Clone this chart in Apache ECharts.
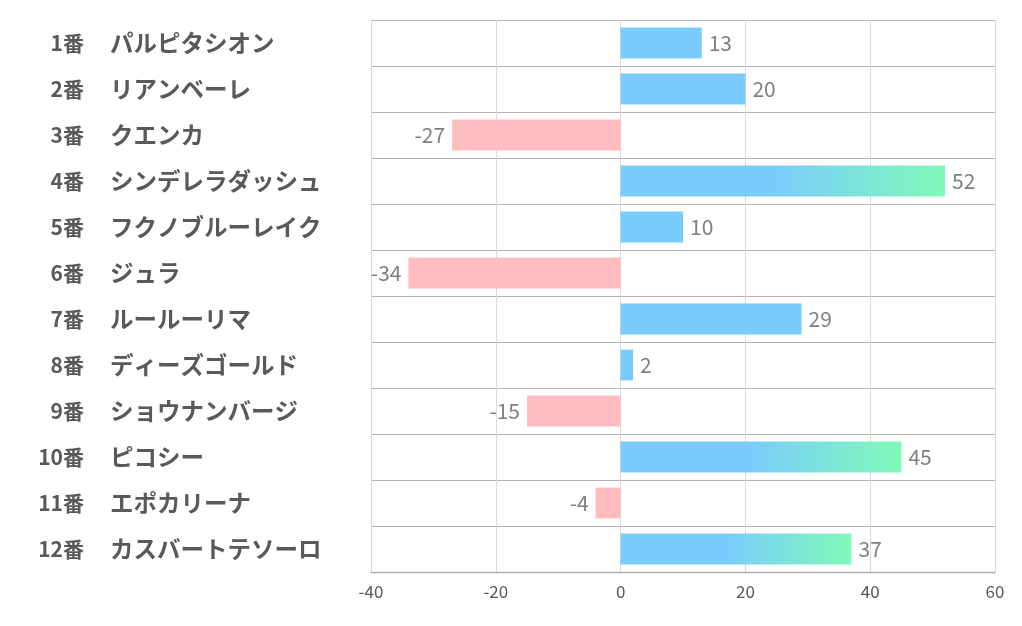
<!DOCTYPE html>
<html>
<head>
<meta charset="utf-8">
<script src="https://cdn.jsdelivr.net/npm/echarts@6/dist/echarts.min.js"></script>
<style>
html,body{margin:0;padding:0;background:#fff;}
#chart{width:1022px;height:626px;}
</style>
</head>
<body>
<div id="chart"></div>
<script>
var numbers = ['1番','2番','3番','4番','5番','6番','7番','8番','9番','10番','11番','12番'];
var names = ['パルピタシオン','リアンベーレ','クエンカ','シンデレラダッシュ','フクノブルーレイク','ジュラ','ルールーリマ','ディーズゴールド','ショウナンバージ','ピコシー','エポカリーナ','カスバートテソーロ'];
var values = [13, 20, -27, 52, 10, -34, 29, 2, -15, 45, -4, 37];
var xTicks = [-40, -20, 0, 20, 40, 60];

var BLUE = '#7ACBFE', GREEN = '#80FAB8', PINK = '#FFBDBF';
var FONT = '"Noto Sans CJK JP", "Noto Sans", sans-serif';

var data = values.map(function(v){
  var color;
  if (v < 0) color = PINK;
  else if (v > 30) color = new echarts.graphic.LinearGradient(0, 0, 1, 0, [
    {offset: 0, color: BLUE}, {offset: 0.45, color: BLUE}, {offset: 1, color: GREEN}
  ]);
  else color = BLUE;
  return {
    value: v,
    itemStyle: {color: color},
    label: {position: v < 0 ? 'left' : 'right'}
  };
});

var chart = echarts.init(document.getElementById('chart'));
chart.setOption({
  animation: false,
  grid: {left: 371, right: 27, top: 20, bottom: 54, containLabel: false},
  xAxis: {
    type: 'value', min: xTicks[0], max: xTicks[xTicks.length-1], interval: 20,
    axisLine: {show: true, lineStyle: {color: '#ababab', width: 1.3}},
    axisTick: {show: false},
    axisLabel: {color: '#595959', fontSize: 17, fontFamily: FONT, margin: 11},
    splitLine: {show: true, lineStyle: {color: '#d9d9d9', width: 1}}
  },
  yAxis: [{
    type: 'category', data: numbers, inverse: true,
    axisLine: {show: false}, axisTick: {show: false},
    splitLine: {show: true, lineStyle: {color: '#b3b3b3', width: 1.2}},
    axisLabel: {margin: 287, align: 'right', fontSize: 21, fontWeight: 'bold', color: '#595959', fontFamily: FONT}
  }, {
    type: 'category', data: names, inverse: true, position: 'left',
    axisLine: {show: false}, axisTick: {show: false}, splitLine: {show: false},
    axisLabel: {margin: 261, align: 'left', fontSize: 23.5, fontWeight: 'bold', color: '#595959', fontFamily: FONT}
  }],
  series: [{
    type: 'bar', data: data, barCategoryGap: '33%', yAxisIndex: 0,
    label: {show: true, color: '#7f7f7f', fontSize: 21, fontFamily: FONT, distance: 7}
  }]
});
</script>
</body>
</html>
